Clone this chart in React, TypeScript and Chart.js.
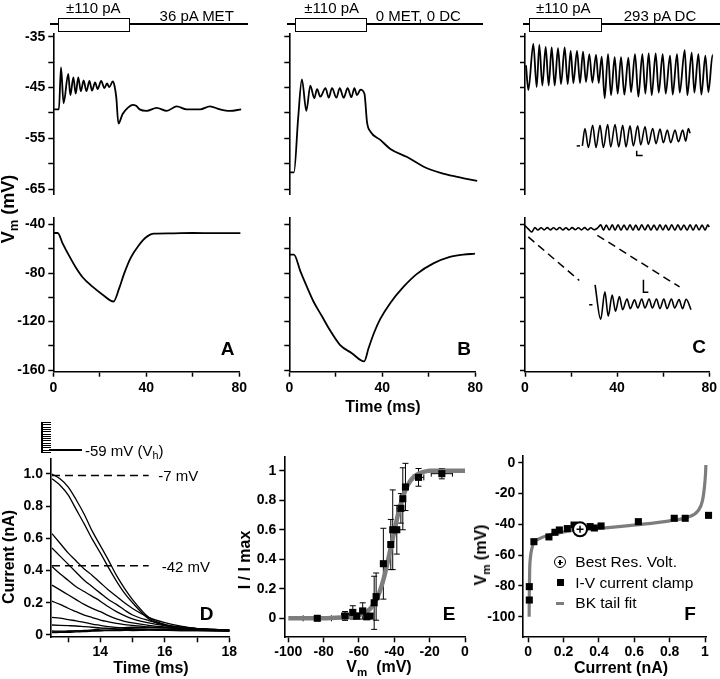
import React, { useEffect, useRef } from 'react';
import { Chart, registerables } from 'chart.js';

Chart.register(...registerables);
const FONT = "'Liberation Sans', Arial, Helvetica, sans-serif";
Chart.defaults.font.family = FONT;
Chart.defaults.color = '#000';

// ---------------- tick values / labels ----------------
const timeTicks = [0, 20, 40, 60, 80];
const timeLabels = ['0', '', '40', '', '80'];
const upperTicks = [-35, -40, -45, -50, -55, -60, -65];
const upperLabels = ['-35', '', '-45', '', '-55', '', '-65'];
const lowerTicks = [-40, -60, -80, -100, -120, -140, -160];
const lowerLabels = ['-40', '', '-80', '', '-120', '', '-160'];
const dXTicks = [13, 14, 15, 16, 17, 18];
const dXLabels = ['', '14', '', '16', '', '18'];
const dYTicks = [0, 0.2, 0.4, 0.6, 0.8, 1.0];
const dYLabels = ['0', '0.2', '0.4', '0.6', '0.8', '1.0'];
const eXTicks = [-100, -80, -60, -40, -20, 0];
const eXLabels = ['-100', '-80', '-60', '-40', '-20', '0'];
const eYTicks = [0, 0.2, 0.4, 0.6, 0.8, 1];
const eYLabels = ['0', '0.2', '0.4', '0.6', '0.8', '1'];
const fXTicks = [0, 0.2, 0.4, 0.6, 0.8, 1];
const fXLabels = ['0', '0.2', '0.4', '0.6', '0.8', '1'];
const fYTicks = [0, -20, -40, -60, -80, -100];
const fYLabels = ['0', '-20', '-40', '-60', '-80', '-100'];

// ---------------- panel A ----------------
const aUpT = [0.4, 2.4, 3.3, 4.4, 6.4, 7.3, 8.6, 9.6, 10.7, 11.8, 13.0, 14.2, 15.5, 16.6, 17.9, 19.0, 20.5, 21.9, 23.0, 24.0, 25.5, 26.2, 27.0, 27.9, 29.7, 31.9, 34.0, 35.5, 37.0, 40.0, 44.3, 48.6, 52.9, 57.1, 62.9, 67.1, 71.4, 75.7, 80.5];
const aUpV = [-49.3, -49.3, -41.0, -48.1, -42.3, -46.5, -43.0, -46.2, -43.0, -45.7, -43.6, -45.7, -43.7, -45.6, -44.0, -45.3, -43.7, -45.1, -44.2, -44.9, -43.8, -44.6, -47.0, -52.1, -50.2, -49.0, -48.4, -48.6, -49.3, -49.6, -49.0, -49.6, -48.7, -49.3, -49.3, -48.7, -49.3, -49.6, -49.3];
const aLoT = [0, 1.9, 4.0, 6.9, 9.7, 12.6, 17.0, 21.1, 25.9, 28.3, 30.4, 33.3, 36.9, 39.8, 43.3, 50, 60, 70, 80.5];
const aLoV = [-46.9, -46.9, -55.4, -66.0, -75.4, -83.4, -91.4, -97.6, -103.4, -92.8, -80.8, -67.4, -56.8, -50.6, -47.4, -47.2, -46.9, -47.0, -47.0];

// ---------------- panel B ----------------
const bUpT = [0, 2.0, 3.8, 5.4, 7.3, 9.0, 10.7, 11.9, 13.3, 15.5, 16.9, 18.3, 20.2, 21.6, 23.3, 25.0, 26.6, 27.9, 29.0, 30.5, 32.2, 33.3, 34.8, 39.0, 43.3, 50.5, 57.6, 64.8, 72.0, 80.5];
const bUpV = [-61.7, -61.7, -51.0, -43.4, -49.6, -44.6, -47.1, -45.3, -46.8, -45.1, -47.0, -45.1, -47.0, -45.1, -47.0, -45.1, -46.9, -45.1, -46.5, -45.4, -46.2, -51.8, -53.7, -55.3, -57.1, -58.7, -60.6, -61.8, -62.6, -63.4];
const bLoT = [0, 2.0, 4.7, 7.6, 10.4, 14.0, 17.6, 21.9, 26.9, 32.2, 34.1, 36.3, 39.1, 43.4, 49.1, 54.8, 62.0, 69.1, 74.9, 79.9];
const bLoV = [-64.8, -64.8, -78.1, -91.4, -103.4, -115.4, -127.4, -139.4, -146.0, -152.8, -142.0, -130.0, -118.0, -104.8, -91.4, -80.8, -72.0, -66.6, -64.8, -64.0];

// ---------------- panel C ----------------
const cUpT = [0.43, 1.43, 3.57, 5.0, 6.14, 7.43, 8.86, 10.14, 11.43, 12.71, 14.14, 15.43, 17.0, 18.29, 19.57, 20.71, 22.29, 23.57, 24.86, 26.14, 27.57, 28.86, 30.43, 31.57, 32.86, 34.14, 35.57, 36.86, 38.43, 39.71, 41.14, 42.57, 44.29, 45.43, 47.14, 48.57, 50.29, 51.57, 53.0, 54.29, 56.0, 57.29, 59.0, 60.29, 62.14, 63.29, 65.14, 66.29, 68.43, 69.57, 71.43, 72.57, 74.29, 75.57, 77.29, 78.57, 80.4, 81.4];
const cUpV = [-40.6, -45.5, -36.4, -44.9, -36.6, -44.6, -37.0, -44.6, -37.1, -44.6, -37.25, -44.3, -37.1, -44.3, -37.75, -44.1, -37.75, -44.1, -37.9, -43.9, -38.4, -44.0, -38.5, -44.1, -38.9, -47.1, -38.4, -46.5, -39.0, -46.2, -39.0, -46.4, -39.1, -45.9, -38.4, -46.8, -38.4, -46.2, -38.25, -46.5, -38.25, -46.0, -38.4, -46.2, -38.7, -46.4, -38.4, -46.0, -37.6, -46.5, -38.1, -46.0, -38.4, -46.4, -38.7, -45.9, -38.5, -43.9];
const cInsetUpT = [24.57, 25.7, 27.15, 29.0, 30.43, 32.15, 33.58, 35.43, 36.72, 38.58, 40.15, 41.86, 43.29, 45.0, 46.43, 48.29, 49.58, 51.43, 52.86, 54.72, 56.15, 57.86, 59.29, 61.0, 62.43, 64.29, 65.72, 67.58, 68.86, 70.0, 70.72];
const cInsetUpV = [-56.5, -53.06, -56.81, -52.44, -56.81, -52.44, -56.81, -52.31, -56.69, -52.31, -56.69, -52.44, -56.69, -52.56, -56.5, -52.56, -56.31, -52.75, -56.19, -53.06, -56.06, -53.19, -55.88, -53.38, -55.88, -53.38, -55.69, -53.38, -55.56, -53.06, -54.0];
const cUpDashT = [22.15, 23.58];
const cUpDashV = [-56.5, -56.5];
const cUpBarT = [47.86, 47.86, 50.43];
const cUpBarV = [-57.44, -58.37, -58.37];

const cLoT = [0, 1.4, 2.9, 4.3, 5.6, 7.0, 8.3, 9.7, 11.0, 12.4, 13.7, 15.1, 16.4, 17.8, 19.1, 20.5, 21.8, 23.2, 24.5, 25.9, 27.2, 28.6, 30.0, 31.4, 32.9, 34.1, 35.3, 36.6, 37.9, 39.1, 40.4, 41.7, 43.0, 44.3, 45.6, 46.9, 48.1, 49.4, 50.7, 52.1, 53.4, 54.7, 56.0, 57.3, 58.6, 59.9, 61.1, 62.4, 63.7, 65.1, 66.4, 67.7, 69.0, 70.4, 71.7, 73.0, 74.3, 75.6, 76.9, 78.2, 79.4, 80.0];
const cLoV = [-40.8, -43.5, -46.1, -42.5, -44.5, -42.6, -44.3, -42.5, -44.3, -42.6, -44.2, -42.4, -44.3, -42.6, -44.4, -42.5, -44.2, -42.6, -44.3, -42.5, -44.4, -42.6, -44.2, -43.0, -40.2, -44.6, -40.3, -44.5, -40.2, -44.7, -40.1, -44.6, -40.3, -44.5, -40.2, -44.6, -40.3, -44.7, -40.2, -44.5, -40.1, -44.6, -40.3, -44.6, -40.2, -44.5, -40.3, -44.7, -40.2, -44.6, -40.1, -44.5, -40.3, -44.6, -40.2, -44.7, -40.2, -44.5, -40.3, -44.6, -40.2, -42.0];
const cInsetLoT = [30.43, 32.86, 34.7, 36.14, 37.86, 39.3, 41.0, 42.4, 44.3, 45.7, 47.57, 49.0, 50.7, 52.1, 53.9, 55.3, 57.1, 58.6, 60.3, 61.7, 63.6, 65.0, 66.9, 68.4, 70.0, 72.1];
const cInsetLoV = [-89.6, -118.1, -95.5, -115.5, -98.1, -111.4, -99.4, -110.1, -101.3, -109.3, -102.1, -108.8, -101.3, -108.8, -101.3, -108.8, -101.3, -109.3, -101.3, -109.3, -101.3, -108.8, -101.9, -109.3, -101.6, -110.1];
const cLoGuide1T = [1.43, 23.57];
const cLoGuide1V = [-50.1, -86.1];
const cLoGuide2T = [31.43, 67.14];
const cLoGuide2V = [-48.8, -91.4];
const cLoDashT = [27.86, 29.3];
const cLoDashV = [-106.1, -106.1];
const cLoBarT = [51.43, 51.43, 53.57];
const cLoBarV = [-85.5, -95.7, -95.7];

// ---------------- panel D ----------------
const dTimes = [12.5, 12.75, 13.0, 13.25, 13.5, 13.75, 14.0, 14.25, 14.5, 14.75, 15.0, 15.5, 16.0, 16.5, 17.0, 17.5, 18.0];
const dI1 = [1.0, 0.97, 0.92, 0.84, 0.75, 0.645, 0.555, 0.465, 0.37, 0.29, 0.22, 0.11, 0.065, 0.045, 0.035, 0.03, 0.027];
const dI2 = [0.97, 0.93, 0.87, 0.78, 0.69, 0.595, 0.51, 0.42, 0.335, 0.26, 0.2, 0.1, 0.06, 0.045, 0.035, 0.03, 0.025];
const dI3 = [0.63, 0.57, 0.51, 0.46, 0.41, 0.37, 0.325, 0.28, 0.24, 0.2, 0.165, 0.11, 0.077, 0.055, 0.04, 0.035, 0.03];
const dI4 = [0.54, 0.49, 0.44, 0.39, 0.34, 0.3, 0.26, 0.22, 0.19, 0.155, 0.124, 0.09, 0.065, 0.05, 0.04, 0.035, 0.03];
const dI5 = [0.425, 0.38, 0.34, 0.3, 0.27, 0.24, 0.21, 0.175, 0.145, 0.12, 0.1, 0.075, 0.058, 0.048, 0.04, 0.035, 0.03];
const dI6 = [0.31, 0.28, 0.25, 0.22, 0.19, 0.165, 0.145, 0.12, 0.1, 0.085, 0.075, 0.06, 0.05, 0.045, 0.04, 0.033, 0.03];
const dI7 = [0.21, 0.19, 0.166, 0.145, 0.124, 0.108, 0.093, 0.082, 0.072, 0.065, 0.06, 0.05, 0.045, 0.04, 0.035, 0.032, 0.028];
const dI8 = [0.11, 0.105, 0.095, 0.088, 0.078, 0.068, 0.06, 0.052, 0.047, 0.042, 0.038, 0.035, 0.033, 0.03, 0.03, 0.028, 0.025];
const dI9 = [0.062, 0.06, 0.058, 0.056, 0.052, 0.048, 0.044, 0.041, 0.038, 0.036, 0.034, 0.032, 0.03, 0.028, 0.027, 0.026, 0.025];
const dI10 = [0.02, 0.02, 0.022, 0.025, 0.028, 0.032, 0.036, 0.04, 0.044, 0.046, 0.048, 0.047, 0.044, 0.04, 0.036, 0.032, 0.028];
const dI11 = [0.015, 0.016, 0.017, 0.019, 0.021, 0.024, 0.027, 0.03, 0.033, 0.035, 0.036, 0.036, 0.035, 0.033, 0.031, 0.029, 0.026];
const dI12 = [0.025, 0.024, 0.025, 0.026, 0.025, 0.027, 0.026, 0.028, 0.027, 0.029, 0.028, 0.03, 0.029, 0.028, 0.027, 0.026, 0.025];
const dRefT = [12.5, 15.5];
const dRefHigh = [0.99, 0.99];
const dRefLow = [0.43, 0.43];

// ---------------- panel E ----------------
const eFitV = [-100, -80, -70, -65, -60, -57, -54, -52, -50, -48, -46, -44, -42, -40, -38, -36, -34, -32, -30, -27, -24, -20, -10, 0];
const eFitI = [0, 0, 0.005, 0.01, 0.02, 0.035, 0.06, 0.09, 0.13, 0.19, 0.27, 0.37, 0.48, 0.59, 0.7, 0.79, 0.86, 0.91, 0.945, 0.975, 0.99, 1.0, 1.0, 1.0];
const eV = [-83.6, -67.9, -63.5, -61.3, -57.9, -55.6, -53.7, -51.4, -50.3, -46.2, -42.0, -40.9, -38.6, -36.3, -35.2, -33.7, -26.3, -13.1];
const eI = [0, 0.016, 0.04, 0.015, 0.05, 0.01, 0.015, 0.105, 0.147, 0.37, 0.5, 0.6, 0.6, 0.745, 0.81, 0.89, 0.955, 0.98];
const eIErr = [0.01, 0.03, 0.045, 0.02, 0.055, 0.01, 0.01, 0.18, 0.16, 0.24, 0.17, 0.27, 0.165, 0.1, 0.21, 0.16, 0.06, 0.035];
const eVErr = [8, 2, 1.5, 1.5, 1.5, 1, 1, 1, 1, 1.5, 1, 1, 1.5, 1, 1, 1, 3, 6];

// ---------------- panel F ----------------
const fFitI = [0.005, 0.006, 0.008, 0.012, 0.02, 0.032, 0.06, 0.117, 0.2, 0.26, 0.42, 0.61, 0.8, 0.9, 0.96, 0.985, 0.997, 1.003, 1.005];
const fFitV = [-100, -85, -70, -62, -56, -52, -49.5, -47, -45, -43.8, -42.5, -40.4, -37.8, -35.5, -31.3, -25, -15.6, -7, -1.5];
const fI = [0.006, 0.006, 0.032, 0.117, 0.151, 0.176, 0.221, 0.259, 0.35, 0.374, 0.412, 0.623, 0.826, 0.888, 1.02];
const fV = [-80.5, -89.2, -51.3, -48.2, -45.2, -43.7, -42.8, -40.5, -41.5, -42.4, -41.1, -38.3, -36.1, -36.1, -34.2];
const fBestI = [0.293];
const fBestV = [-43.3];

// ---------------- helpers ----------------
const pts = (xs: number[], ys: number[]) => xs.map((x, i) => ({ x, y: ys[i] }));
const lab = (ticks: number[], labels: string[]) => (v: number) => {
  const i = ticks.findIndex((t) => Math.abs(t - v) < 1e-6);
  return i >= 0 ? labels[i] : '';
};
const blank = () => '';

type AxisSpec = { min: number; max: number; ticks: number[]; label: (v: number) => string };
type Geo = { cx: number; cy: number; cw: number; ch: number; L: number; T: number; R: number; B: number; xAxis: boolean; pad?: number };

const axis = (pos: 'left' | 'bottom', s: AxisSpec, size: number, pad = 3) => ({
  type: 'linear',
  position: pos,
  min: s.min,
  max: s.max,
  bounds: 'data',
  afterBuildTicks: (ax: any) => {
    ax.ticks = s.ticks.map((v) => ({ value: v }));
  },
  afterFit: (ax: any) => {
    if (pos === 'left') ax.width = size;
    else ax.height = size;
  },
  border: { display: true, color: '#000', width: 1.6 },
  grid: { display: true, drawOnChartArea: false, drawTicks: true, tickLength: 5, tickColor: '#000', tickWidth: 1.5 },
  ticks: {
    autoSkip: false,
    maxRotation: 0,
    color: '#000',
    padding: pad,
    font: { family: FONT, size: 14, weight: 'bold' },
    callback: (v: number) => s.label(v),
  },
});

const makeConfig = (g: Geo, xs: AxisSpec, ys: AxisSpec, datasets: any[], plugins: any[] = []) => ({
  type: 'scatter',
  data: { datasets },
  options: {
    responsive: false,
    animation: false,
    devicePixelRatio: 1,
    events: [],
    layout: {
      padding: {
        left: 0,
        top: g.T - g.cy,
        right: g.cx + g.cw - g.R,
        bottom: g.xAxis ? 0 : g.cy + g.ch - g.B,
      },
    },
    plugins: { legend: { display: false }, tooltip: { enabled: false } },
    scales: {
      x: g.xAxis ? axis('bottom', xs, g.cy + g.ch - g.B, g.pad ?? 3) : { type: 'linear', display: false, min: xs.min, max: xs.max },
      y: axis('left', ys, g.L - g.cx),
    },
  },
  plugins,
});

const trace = (xs: number[], ys: number[], extra: any = {}) => ({
  data: pts(xs, ys),
  showLine: true,
  borderColor: '#000',
  borderWidth: 1.8,
  pointRadius: 0,
  fill: false,
  cubicInterpolationMode: 'monotone',
  clip: false,
  ...extra,
});
const straight = (xs: number[], ys: number[], extra: any = {}) =>
  trace(xs, ys, { cubicInterpolationMode: 'default', tension: 0, borderWidth: 1.5, ...extra });

function ChartBox({ g, build }: { g: Geo; build: () => any }) {
  const ref = useRef<HTMLCanvasElement>(null);
  useEffect(() => {
    const chart = new Chart(ref.current as HTMLCanvasElement, build());
    return () => chart.destroy();
  }, []);
  return (
    <canvas
      ref={ref}
      width={g.cw}
      height={g.ch}
      style={{ position: 'absolute', left: g.cx, top: g.cy, width: g.cw, height: g.ch, display: 'block' }}
    />
  );
}

const Txt = ({ x, y, size = 15, bold = false, rot = false, left = false, children }: any) => (
  <div
    style={{
      position: 'absolute',
      left: x,
      top: y,
      transform: `translate(${left ? '0' : '-50%'},-50%)${rot ? ' rotate(-90deg)' : ''}`,
      fontFamily: FONT,
      fontSize: size,
      fontWeight: bold ? 700 : 400,
      whiteSpace: 'nowrap',
      lineHeight: 1,
      color: '#000',
    }}
  >
    {children}
  </div>
);
const Sub = ({ children }: any) => (
  <span style={{ fontSize: '0.72em', position: 'relative', top: '0.32em' }}>{children}</span>
);
const Rect = ({ x0, y0, x1, y1, style = {} }: any) => (
  <div style={{ position: 'absolute', left: x0, top: y0, width: x1 - x0, height: y1 - y0, boxSizing: 'border-box', ...style }} />
);

// ---------------- geometry (page pixels) ----------------
const upX: AxisSpec = { min: 0, max: 80, ticks: timeTicks, label: blank };
const loX: AxisSpec = { min: 0, max: 80, ticks: timeTicks, label: lab(timeTicks, timeLabels) };
const upYA: AxisSpec = { min: -66.1, max: -34.3, ticks: upperTicks, label: lab(upperTicks, upperLabels) };
const upYn: AxisSpec = { ...upYA, label: blank };
const loYA: AxisSpec = { min: -161.3, max: -34.05, ticks: lowerTicks, label: lab(lowerTicks, lowerLabels) };
const loYn: AxisSpec = { ...loYA, label: blank };

const cols = [
  { cx: 0, L: 53.3, R: 240, cw: 250 },
  { cx: 236, L: 289.3, R: 476, cw: 250 },
  { cx: 472, L: 525, R: 711.7, cw: 248 },
];
const upGeo = (i: number): Geo => ({ cx: cols[i].cx, cw: cols[i].cw, L: cols[i].L, R: cols[i].R, cy: 0, ch: 206, T: 33.3, B: 203, xAxis: false });
const loGeo = (i: number): Geo => ({ cx: cols[i].cx, cw: cols[i].cw, L: cols[i].L, R: cols[i].R, cy: 206, ch: 190, T: 213.3, B: 371.7, xAxis: true });

const dGeo: Geo = { cx: 0, cy: 410, cw: 240, ch: 269, L: 51, T: 459, R: 229.3, B: 637.3, xAxis: true, pad: 1 };
const eGeo: Geo = { cx: 236, cy: 410, cw: 240, ch: 269, L: 284.3, T: 456.7, R: 465, B: 637.3, xAxis: true, pad: 1 };
const fGeo: Geo = { cx: 476, cy: 410, cw: 244, ch: 269, L: 523.3, T: 456, R: 706.7, B: 637.3, xAxis: true, pad: 1 };

const errorBars = {
  id: 'errorBars',
  beforeDatasetsDraw(chart: any) {
    const { ctx, scales } = chart;
    const x = scales.x;
    const y = scales.y;
    ctx.save();
    ctx.strokeStyle = '#000';
    ctx.lineWidth = 1;
    eV.forEach((v, i) => {
      const px = x.getPixelForValue(v);
      const py = y.getPixelForValue(eI[i]);
      const ya = y.getPixelForValue(eI[i] - eIErr[i]);
      const yb = y.getPixelForValue(eI[i] + eIErr[i]);
      const xa = x.getPixelForValue(v - eVErr[i]);
      const xb = x.getPixelForValue(v + eVErr[i]);
      ctx.beginPath();
      ctx.moveTo(px, ya); ctx.lineTo(px, yb);
      ctx.moveTo(px - 3, ya); ctx.lineTo(px + 3, ya);
      ctx.moveTo(px - 3, yb); ctx.lineTo(px + 3, yb);
      ctx.moveTo(xa, py); ctx.lineTo(xb, py);
      ctx.moveTo(xa, py - 3); ctx.lineTo(xa, py + 3);
      ctx.moveTo(xb, py - 3); ctx.lineTo(xb, py + 3);
      ctx.stroke();
    });
    ctx.restore();
  },
};

const GRAY = '#7d7d7d';
const dCurves = [dI1, dI2, dI3, dI4, dI5, dI6, dI7, dI8, dI9, dI10, dI11, dI12];

export default function App() {
  const stim = [
    { line: [50, 248], box: [58.3, 130], amp: 93.3, lbl: '36 pA MET', lx: 196.7 },
    { line: [287, 483.3], box: [295, 366.7], amp: 331.7, lbl: '0 MET, 0 DC', lx: 418.3 },
    { line: [523, 720], box: [529.3, 601.7], amp: 563.3, lbl: '293 pA DC', lx: 660 },
  ];
  return (
    <div style={{ position: 'absolute', left: 0, top: 0, width: 720, height: 679, background: '#fff', overflow: 'hidden' }}>
      {/* Panel A */}
      <ChartBox g={upGeo(0)} build={() => makeConfig(upGeo(0), upX, upYA, [trace(aUpT, aUpV)])} />
      <ChartBox g={loGeo(0)} build={() => makeConfig(loGeo(0), loX, loYA, [trace(aLoT, aLoV)])} />
      {/* Panel B */}
      <ChartBox g={upGeo(1)} build={() => makeConfig(upGeo(1), upX, upYn, [trace(bUpT, bUpV)])} />
      <ChartBox g={loGeo(1)} build={() => makeConfig(loGeo(1), loX, loYn, [trace(bLoT, bLoV)])} />
      {/* Panel C */}
      <ChartBox
        g={upGeo(2)}
        build={() =>
          makeConfig(upGeo(2), upX, upYn, [
            trace(cUpT, cUpV),
            trace(cInsetUpT, cInsetUpV, { borderWidth: 1.6 }),
            straight(cUpDashT, cUpDashV),
            straight(cUpBarT, cUpBarV),
          ])
        }
      />
      <ChartBox
        g={loGeo(2)}
        build={() =>
          makeConfig(loGeo(2), loX, loYn, [
            trace(cLoT, cLoV, { borderWidth: 1.6 }),
            trace(cInsetLoT, cInsetLoV, { borderWidth: 1.6 }),
            straight(cLoGuide1T, cLoGuide1V, { borderDash: [8, 5] }),
            straight(cLoGuide2T, cLoGuide2V, { borderDash: [8, 5] }),
            straight(cLoDashT, cLoDashV),
            straight(cLoBarT, cLoBarV),
          ])
        }
      />
      {/* Panel D */}
      <ChartBox
        g={dGeo}
        build={() =>
          makeConfig(
            dGeo,
            { min: 12.47, max: 18, ticks: dXTicks, label: lab(dXTicks, dXLabels) },
            { min: -0.0143, max: 1.093, ticks: dYTicks, label: lab(dYTicks, dYLabels) },
            [
              ...dCurves.map((c) => trace(dTimes, c, { borderWidth: 1.3 })),
              straight(dRefT, dRefHigh, { borderDash: [8, 5] }),
              straight(dRefT, dRefLow, { borderDash: [8, 5] }),
            ]
          )
        }
      />
      {/* Panel E */}
      <ChartBox
        g={eGeo}
        build={() =>
          makeConfig(
            eGeo,
            { min: -102.27, max: 0, ticks: eXTicks, label: lab(eXTicks, eXLabels) },
            { min: -0.1287, max: 1.095, ticks: eYTicks, label: lab(eYTicks, eYLabels) },
            [
              { data: pts(eV, eI), pointStyle: 'rect', pointRadius: 5, backgroundColor: '#000', borderColor: '#000', borderWidth: 0, clip: false },
              trace(eFitV, eFitI, { borderColor: GRAY, borderWidth: 4.5 }),
            ],
            [errorBars]
          )
        }
      />
      {/* Panel F */}
      <ChartBox
        g={fGeo}
        build={() =>
          makeConfig(
            fGeo,
            { min: -0.028, max: 1.0096, ticks: fXTicks, label: lab(fXTicks, fXLabels) },
            { min: -113.4, max: 4.35, ticks: fYTicks, label: lab(fYTicks, fYLabels) },
            [
              { data: pts(fBestI, fBestV), pointStyle: 'cross', pointRadius: 3.5, borderColor: '#000', borderWidth: 1.5, clip: false },
              { data: pts(fBestI, fBestV), pointStyle: 'circle', pointRadius: 7, backgroundColor: '#fff', borderColor: '#000', borderWidth: 2, clip: false },
              { data: pts(fI, fV), pointStyle: 'rect', pointRadius: 5, backgroundColor: '#000', borderColor: '#000', borderWidth: 0, clip: false },
              trace(fFitI, fFitV, { borderColor: GRAY, borderWidth: 3.2 }),
            ]
          )
        }
      />

      {/* stimulus bars */}
      {stim.map((s, i) => (
        <React.Fragment key={i}>
          <Rect x0={s.line[0]} y0={23.2} x1={s.line[1]} y1={24.8} style={{ background: '#000' }} />
          <Rect x0={s.box[0]} y0={18.3} x1={s.box[1]} y1={32.3} style={{ background: '#fff', border: '1.5px solid #000' }} />
          <Txt x={s.amp} y={7}>±110 pA</Txt>
          <Txt x={s.lx} y={14.5}>{s.lbl}</Txt>
        </React.Fragment>
      ))}

      {/* top-row titles and letters */}
      <Txt x={8} y={209} size={18} bold rot>
        V<Sub>m</Sub> (mV)
      </Txt>
      <Txt x={383} y={407} size={16} bold>Time (ms)</Txt>
      <Txt x={227.5} y={347.5} size={19} bold>A</Txt>
      <Txt x={464} y={347.5} size={19} bold>B</Txt>
      <Txt x={699} y={346} size={19} bold>C</Txt>

      {/* Panel D annotations */}
      <Rect x0={41} y0={421.5} x1={42.5} y1={453} style={{ background: '#000' }} />
      {Array.from({ length: 14 }, (_, k) => (
        <Rect key={k} x0={41} y0={422 + k * 2.3} x1={51} y1={423 + k * 2.3} style={{ background: '#000' }} />
      ))}
      <Rect x0={49} y0={449.3} x1={82} y1={450.8} style={{ background: '#000' }} />
      <Txt x={85} y={450} left>
        -59 mV (V<Sub>h</Sub>)
      </Txt>
      <Txt x={158.3} y={475} left>-7 mV</Txt>
      <Txt x={161.7} y={565.7} left>-42 mV</Txt>
      <Txt x={151} y={668} size={16} bold>Time (ms)</Txt>
      <Txt x={9} y={556.7} size={16} bold rot>Current (nA)</Txt>
      <Txt x={206.7} y={613} size={19} bold>D</Txt>

      {/* Panel E annotations */}
      <Txt x={245} y={560} size={16} bold rot>I / I max</Txt>
      <Txt x={379} y={667} size={16} bold>
        V<Sub>m</Sub>&nbsp;&nbsp;(mV)
      </Txt>
      <Txt x={449} y={613} size={19} bold>E</Txt>

      {/* Panel F annotations */}
      <Txt x={481} y={555} size={16} bold rot>
        V<Sub>m</Sub> (mV)
      </Txt>
      <Txt x={621} y={668} size={16} bold>Current (nA)</Txt>
      <Txt x={690} y={613} size={19} bold>F</Txt>
      <div style={{ position: 'absolute', left: 554, top: 556.3, width: 12, height: 12, borderRadius: '50%', border: '1.5px solid #000', boxSizing: 'border-box', background: '#fff' }} />
      <Rect x0={557.5} y0={561.7} x1={562.5} y1={562.9} style={{ background: '#000' }} />
      <Rect x0={559.4} y0={559.8} x1={560.6} y1={564.8} style={{ background: '#000' }} />
      <Rect x0={556.5} y0={579.2} x1={563.5} y1={586.2} style={{ background: '#000' }} />
      <Rect x0={556} y0={601.8} x1={564} y1={604.8} style={{ background: GRAY }} />
      <Txt x={575.3} y={562.3} size={15.5} left>Best Res. Volt.</Txt>
      <Txt x={575.3} y={582.7} size={15.5} left>I-V current clamp</Txt>
      <Txt x={575.3} y={603.3} size={15.5} left>BK tail fit</Txt>
    </div>
  );
}
